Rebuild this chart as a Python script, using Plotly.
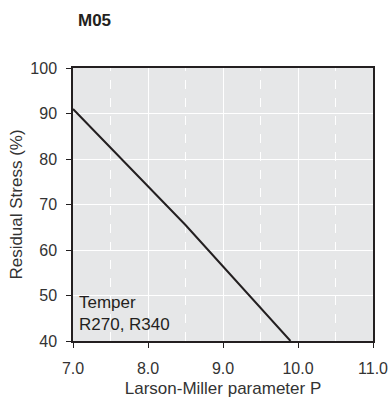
import plotly.graph_objects as go

p_values = [7.0, 8.5, 9.9]
stress_values = [91.0, 65.5, 40.0]
x_ticks = [7.0, 8.0, 9.0, 10.0, 11.0]
x_tick_labels = ["7.0", "8.0", "9.0", "10.0", "11.0"]
y_ticks = [40, 50, 60, 70, 80, 90, 100]
minor_x = [7.5, 8.5, 9.5, 10.5]

FONT = "Liberation Sans, Arial, sans-serif"
fig = go.Figure()
fig.add_trace(go.Scatter(x=p_values, y=stress_values, mode="lines",
                         line=dict(color="#231f20", width=2), showlegend=False,
                         hoverinfo="skip"))

shapes = []
for xv in minor_x:
    shapes.append(dict(type="line", xref="x", yref="paper", x0=xv, x1=xv, y0=0, y1=1,
                       line=dict(color="white", width=1, dash="dash"), layer="below"))
fig.update_layout(shapes=shapes)

fig.update_layout(
    width=392, height=399,
    margin=dict(l=73, r=19, t=68, b=58),
    paper_bgcolor="white", plot_bgcolor="#e6e7e8",
    font=dict(family=FONT, size=16, color="#333333"),
    title=dict(text="<b>M05</b>", x=78/392, xanchor="left", y=1-20/399, yanchor="middle",
               font=dict(family=FONT, size=17, color="#231f20")),
    xaxis=dict(range=[7.0, 11.0], tickvals=x_ticks, ticktext=x_tick_labels,
               showgrid=True, gridcolor="white", gridwidth=1,
               showline=True, linecolor="#231f20", linewidth=1.5, mirror=True,
               ticks="outside", ticklen=5, tickcolor="#231f20", ticklabelstandoff=7,
               zeroline=False, automargin=False,
               title=dict(text="Larson-Miller parameter P", standoff=6,
                          font=dict(size=17, color="#333333"))),
    yaxis=dict(range=[40, 100], tickvals=y_ticks,
               showgrid=True, gridcolor="white", gridwidth=1,
               showline=True, linecolor="#231f20", linewidth=1.5, mirror=True,
               ticks="outside", ticklen=5, tickcolor="#231f20", ticklabelstandoff=6,
               zeroline=False, automargin=False,
               title=dict(text="Residual Stress (%)", standoff=3,
                          font=dict(size=17, color="#333333"))),
    annotations=[dict(text="Temper<br>R270, R340", xref="x", yref="y",
                      x=7.05, y=41, xanchor="left", yanchor="bottom", showarrow=False,
                      align="left", font=dict(family=FONT, size=17, color="#231f20"))],
)
fig.write_html("out.html")
